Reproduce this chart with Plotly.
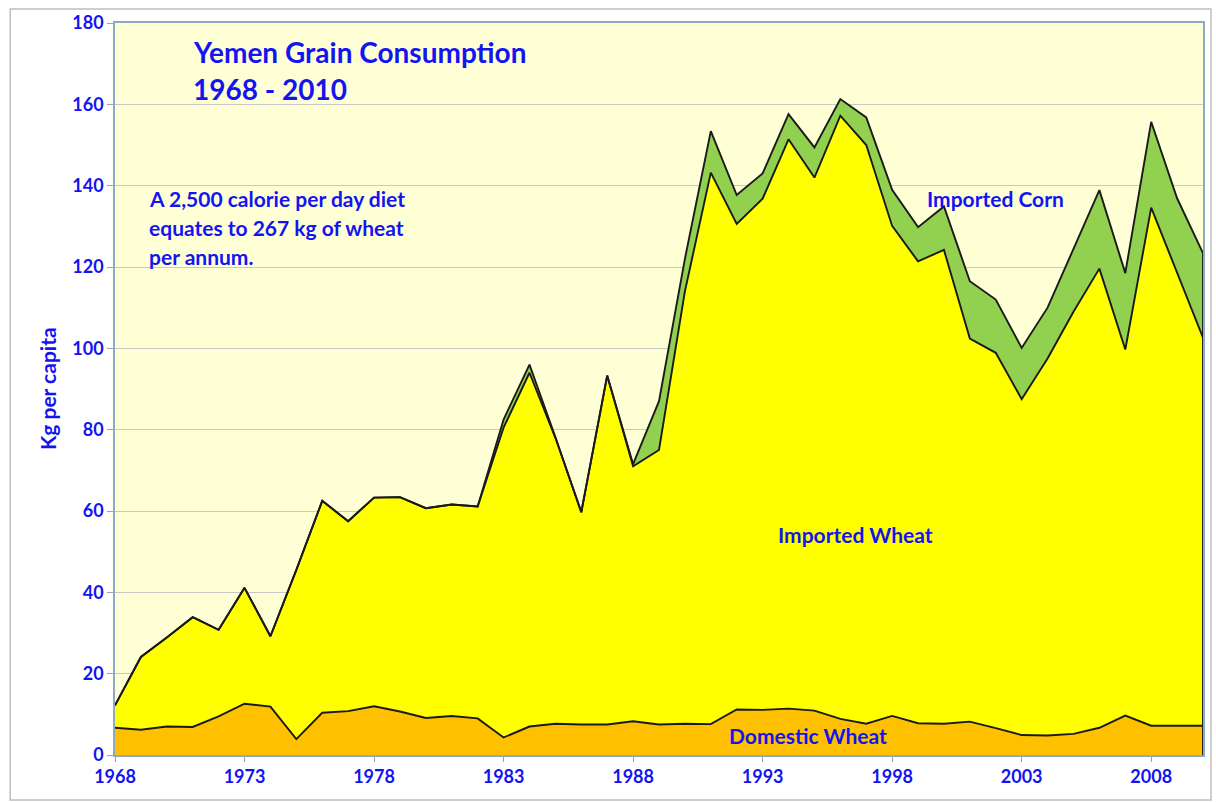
import plotly.graph_objects as go

years = list(range(1968, 2011))

domestic_wheat = [6.7, 6.2, 7.0, 6.9, 9.5, 12.6, 11.9, 3.9, 10.4, 10.8,
                  12.0, 10.7, 9.1, 9.6, 9.0, 4.3, 7.0, 7.7, 7.5, 7.5,
                  8.3, 7.5, 7.7, 7.6, 11.2, 11.1, 11.4, 10.9, 8.9, 7.7,
                  9.6, 7.8, 7.7, 8.2, 6.6, 4.9, 4.8, 5.2, 6.7, 9.7,
                  7.2, 7.2, 7.2]

imported_wheat = [5.5, 17.9, 21.9, 27.0, 21.3, 28.5, 17.3, 41.6, 52.1, 46.7,
                  51.3, 52.7, 51.6, 52.0, 52.1, 76.2, 87.0, 70.3, 52.2, 85.8,
                  62.7, 67.5, 106.3, 135.6, 119.4, 125.7, 140.0, 131.1, 148.3, 142.3,
                  120.5, 113.6, 116.5, 94.2, 92.3, 82.6, 92.7, 103.8, 112.9, 90.0,
                  127.4, 111.3, 95.4]

imported_corn = [0, 0, 0, 0, 0, 0, 0, 0, 0, 0,
                 0, 0, 0, 0, 0, 2.0, 2.0, 0.2, 0, 0,
                 0.5, 12.0, 8.0, 10.2, 7.1, 6.2, 6.2, 7.4, 4.1, 6.8,
                 8.9, 8.4, 10.7, 14.1, 13.1, 12.6, 12.5, 15.5, 19.3, 18.8,
                 21.1, 18.4, 20.8]

x_tick_years = list(range(1968, 2010, 5))

BLUE = "#1414F0"
FONT = "Lato"
LINE = dict(color="#1a1a1a", width=1.9)

fig = go.Figure()
fig.add_trace(go.Scatter(x=years, y=domestic_wheat, name="Domestic Wheat",
                         stackgroup="g", mode="lines", line=LINE,
                         fillcolor="#FFC000"))
fig.add_trace(go.Scatter(x=years, y=imported_wheat, name="Imported Wheat",
                         stackgroup="g", mode="lines", line=LINE,
                         fillcolor="#FFFF00"))
fig.add_trace(go.Scatter(x=years, y=imported_corn, name="Imported Corn",
                         stackgroup="g", mode="lines", line=LINE,
                         fillcolor="#92D050"))

total_last = domestic_wheat[-1] + imported_wheat[-1] + imported_corn[-1]

W, H = 1216, 802
L, R, T, B = 115, 11, 21, 47
pw, ph = W - L - R, H - T - B


def px(xp):
    return (xp - L) / pw


def py(yp):
    return (H - B - yp) / ph


shapes = [
    dict(type="rect", xref="paper", yref="paper",
         x0=px(10), x1=px(1213), y0=py(800), y1=py(7),
         line=dict(color="#BFBFBF", width=1.5), fillcolor="rgba(0,0,0,0)",
         layer="below"),
    dict(type="line", xref="x", yref="y", x0=years[-1], x1=years[-1],
         y0=0, y1=total_last, line=LINE),
]

annotations = [
    dict(text="Yemen Grain Consumption", x=px(191), y=py(50)),
    dict(text="1968 - 2010", x=px(191), y=py(87)),
]
for a in annotations:
    a.update(xref="paper", yref="paper", xanchor="left", yanchor="middle",
             showarrow=False,
             font=dict(family=FONT, size=28, color=BLUE, weight="bold"))

small = [
    ("A 2,500 calorie per day diet", 147, 197),
    ("equates to 267 kg of wheat", 147, 226),
    ("per annum.", 147, 255),
    ("Imported Corn", 926, 197),
    ("Imported Wheat", 777, 534),
    ("Domestic Wheat", 728, 735),
]
for txt, xx, yy in small:
    annotations.append(dict(text=txt, x=px(xx), y=py(yy), xref="paper",
                            yref="paper", xanchor="left", yanchor="middle",
                            showarrow=False,
                            font=dict(family=FONT, size=21, color=BLUE,
                                      weight="bold")))

annotations.append(dict(text="Kg per capita", x=px(47), y=py(388),
                        xref="paper", yref="paper", xanchor="center",
                        yanchor="middle", textangle=-90, showarrow=False,
                        font=dict(family=FONT, size=21, color=BLUE,
                                  weight="bold")))

fig.update_layout(
    width=W, height=H,
    margin=dict(l=L, r=R, t=T, b=B),
    paper_bgcolor="white",
    plot_bgcolor="#FFFFD6",
    showlegend=False,
    shapes=shapes,
    annotations=annotations,
    xaxis=dict(range=[1968, 2010], tickmode="array", tickvals=x_tick_years,
               ticktext=[str(v) for v in x_tick_years],
               showgrid=False, zeroline=False,
               showline=True, linecolor="#8DA9C8", linewidth=1.5, mirror=True,
               ticks="outside", ticklen=5, tickcolor="#A0A0A0",
               tickfont=dict(family=FONT, size=18, color=BLUE, weight="bold")),
    yaxis=dict(range=[0, 180], dtick=20, showgrid=True, gridcolor="#C8C8C8",
               gridwidth=1.2, zeroline=False,
               showline=True, linecolor="#8DA9C8", linewidth=1.5, mirror=True,
               ticks="outside", ticklen=6, tickcolor="#A0A0A0",
               tickfont=dict(family=FONT, size=18, color=BLUE, weight="bold")),
)

fig.write_html("out.html", config={"displayModeBar": False},
               post_script="document.body.style.margin='0';"
                           "document.body.style.overflow='hidden';")
